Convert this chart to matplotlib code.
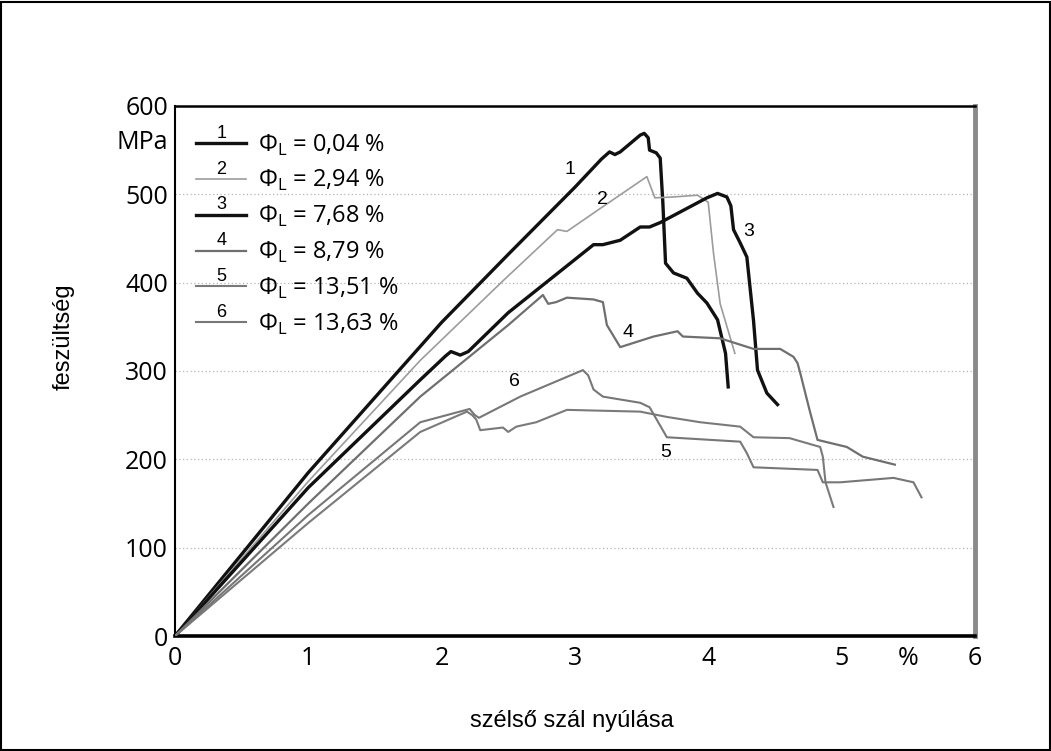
import numpy as np
import matplotlib
matplotlib.use('Agg')
import matplotlib.pyplot as plt
from matplotlib.lines import Line2D
from matplotlib.patches import Rectangle
from matplotlib.legend_handler import HandlerLine2D
from matplotlib.text import Text

# görbék: nyúlás (%) - feszültség (MPa)
x1 = [0, 1, 2, 2.5, 3, 3.2, 3.26, 3.3, 3.34, 3.49, 3.52, 3.55, 3.56, 3.61, 3.64, 3.66, 3.68, 3.74, 3.84, 3.92, 3.99, 4.07, 4.13, 4.15]
y1 = [0, 185, 355, 432, 508, 540, 548, 545, 548, 567, 569, 564, 550, 547, 541, 490, 422, 411, 405, 388, 377, 358, 320, 282]

x2 = [0, 1, 1.84, 2.46, 2.87, 2.94, 3.2, 3.54, 3.6, 3.74, 3.92, 4.0, 4.04, 4.09, 4.2]
y2 = [0, 175, 312, 402, 460, 458, 485, 520, 496, 497, 499, 491, 433, 376, 320]

x3 = [0, 1, 1.84, 2.03, 2.07, 2.14, 2.2, 2.5, 3.14, 3.21, 3.34, 3.49, 3.56, 3.64, 3.99, 4.07, 4.14, 4.17, 4.19, 4.24, 4.29, 4.34, 4.37, 4.44, 4.52]
y3 = [0, 168, 290, 317, 322, 318, 322, 366, 443, 443, 448, 463, 463, 468, 496, 501, 497, 487, 460, 445, 429, 357, 301, 275, 262]

x4 = [0, 1, 1.84, 2.5, 2.76, 2.8, 2.86, 2.94, 3.14, 3.21, 3.24, 3.34, 3.59, 3.77, 3.81, 4.09, 4.34, 4.54, 4.64, 4.67, 4.69, 4.76, 4.82, 5.04, 5.16, 5.4]
y4 = [0, 150, 271, 352, 386, 376, 378, 383, 381, 378, 352, 327, 339, 345, 339, 337, 325, 325, 316, 309, 298, 256, 222, 214, 203, 194]

x5 = [0, 1, 1.84, 2.19, 2.23, 2.26, 2.29, 2.46, 2.5, 2.56, 2.71, 2.94, 3.21, 3.49, 3.69, 3.94, 4.24, 4.34, 4.61, 4.84, 4.86, 4.88, 4.94]
y5 = [0, 128, 231, 254, 250, 245, 233, 236, 231, 237, 242, 256, 255, 254, 248, 242, 237, 225, 224, 214, 203, 174, 146]

x6 = [0, 1, 1.84, 2.21, 2.25, 2.28, 2.59, 3.06, 3.1, 3.14, 3.21, 3.49, 3.56, 3.69, 4.24, 4.29, 4.34, 4.82, 4.86, 4.99, 5.39, 5.54, 5.6]
y6 = [0, 137, 242, 257, 250, 247, 271, 301, 295, 279, 271, 264, 259, 225, 220, 207, 191, 188, 174, 174, 179, 174, 157]

nevek = ['1', '2', '3', '4', '5', '6']
phi = ['0,04', '2,94', '7,68', '8,79', '13,51', '13,63']
# görbe-számok helye a diagramon
cimke_x = [2.96, 3.21, 4.3, 3.4, 3.68, 2.55]
cimke_y = [528, 494, 458, 344, 208, 288]

szinek = ['#111111', '#9c9c9c', '#111111', '#6f6f6f', '#7a7a7a', '#777777']
vastag = [2.4, 1.2, 2.4, 1.6, 1.5, 1.5]

tick_font = 'Open Sans'
arial = 'Liberation Sans'


class SzamosHandler(HandlerLine2D):
    # vonal a legendában, fölötte a görbe száma
    def __init__(self, num, **kw):
        super().__init__(**kw)
        self.num = num

    def create_artists(self, legend, orig_handle, xdescent, ydescent, width, height, fontsize, trans):
        arts = super().create_artists(legend, orig_handle, xdescent, ydescent, width, height, fontsize, trans)
        t = Text(width / 2 - xdescent, (height - ydescent) / 2 + 1, self.num,
                 ha='center', va='bottom', fontsize=13, family=arial, transform=trans)
        return list(arts) + [t]


fig = plt.figure(figsize=(10.51, 7.51), dpi=100)
ax = fig.add_axes([0.1665, 0.1531, 0.761, 0.7058])

xs = [x1, x2, x3, x4, x5, x6]
ys = [y1, y2, y3, y4, y5, y6]
for i in range(6):
    ax.plot(xs[i], ys[i], color=szinek[i], lw=vastag[i], solid_joinstyle='round', zorder=3)
    ax.text(cimke_x[i], cimke_y[i], nevek[i], fontsize=14, family=arial, ha='center', va='center')

ax.set_xlim(0, 6)
ax.set_ylim(0, 600)

ax.set_yticks([0, 100, 200, 300, 400, 500, 600])
ax.set_yticks([562], ['MPa'], minor=True)
ax.set_xticks([0, 1, 2, 3, 4, 5, 5.5, 6], ['0', '1', '2', '3', '4', '5', '%', '6'])
ax.tick_params(which='both', length=0, labelsize=18, pad=5)
ax.tick_params(axis='x', pad=7)
for lab in ax.get_xticklabels() + ax.get_yticklabels() + ax.get_yticklabels(minor=True):
    lab.set_family(tick_font)

ax.grid(axis='y', color='#b5b5b5', linestyle=(0, (1, 2)), lw=0.9)

ax.spines['left'].set_linewidth(1.5)
ax.spines['top'].set_linewidth(1.8)
ax.spines['bottom'].set_linewidth(2.6)
ax.spines['right'].set_linewidth(3.5)
ax.spines['right'].set_color('#8a8a8a')

ax.set_xlabel('szélső szál nyúlása', fontsize=17, family=arial, va='baseline')
ax.xaxis.set_label_coords(0.496, -0.172)
ax.set_ylabel('feszültség', fontsize=17, family=arial, va='center')
ax.yaxis.set_label_coords(-0.139, 0.564)

handles = []
for i in range(6):
    handles.append(Line2D([], [], color=szinek[i], lw=vastag[i]))
labels = ['Φ$_\\mathregular{L}$ = ' + p + ' %' for p in phi]
leg = ax.legend(handles, labels, loc='upper left', bbox_to_anchor=(0.015, 0.968), frameon=False,
                handlelength=2.1, handletextpad=0.5, labelspacing=0.45, borderaxespad=0,
                prop={'family': tick_font, 'size': 17},
                handler_map={h: SzamosHandler(n) for h, n in zip(handles, nevek)})

fig.patches.append(Rectangle((0.001, 0.001), 0.998, 0.997, transform=fig.transFigure,
                             fill=False, edgecolor='black', lw=1.5))

fig.savefig('out.png', dpi=100)
